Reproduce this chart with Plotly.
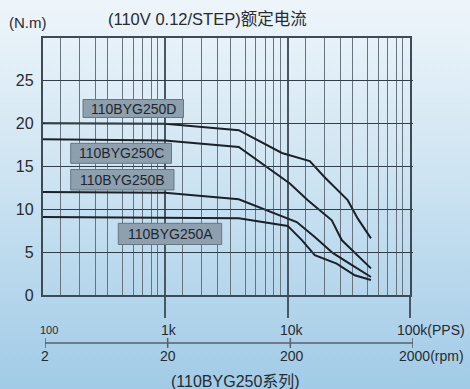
import base64
import math
import plotly.graph_objects as go

W, H = 470, 389

# Torque–frequency curves (pulse rate in PPS, torque in N.m)
freq_D = [100, 1000, 4000, 9000, 15200, 20000, 31000, 37500, 48000]
torque_D = [20.0, 19.95, 19.2, 16.55, 15.6, 13.75, 11.05, 8.9, 6.6]

freq_C = [100, 1000, 4000, 10450, 14650, 23000, 27700, 36700, 48000]
torque_C = [18.15, 18.0, 17.25, 13.0, 11.05, 8.7, 6.4, 4.65, 3.1]

freq_B = [100, 1000, 4000, 11900, 16700, 23400, 30500, 48000]
torque_B = [12.0, 11.9, 11.15, 8.5, 6.75, 4.9, 3.85, 2.1]

freq_A = [100, 1000, 4000, 10050, 13100, 16700, 25200, 35400, 48000]
torque_A = [9.1, 9.0, 8.95, 8.05, 6.4, 4.65, 3.65, 2.3, 1.75]

model_names = ["110BYG250D", "110BYG250C", "110BYG250B", "110BYG250A"]

torque_ticks = [0, 5, 10, 15, 20, 25]
decade_vals = [1000, 10000, 100000]
minor_mult = [1.4, 2, 2.7, 3.4, 4.5, 5.5, 6.6, 7.7, 8.7]
minor_vals = [d * m for d in [100, 1000, 10000] for m in minor_mult]

scale_vals = [100, 1000, 10000, 100000]
pps_labels = ["100", "1k", "10k", "100k(PPS)"]
rpm_labels = ["2", "20", "200", "2000(rpm)"]

FONT = "Liberation Sans, Arial, Noto Sans CJK SC, sans-serif"
TEXT = "#262b30"
CURVE = "#1b2129"


def fx(px):
    return px / W


def fy(py):
    return 1 - py / H


fig = go.Figure()

for name, xs, ys in zip(model_names,
                        [freq_D, freq_C, freq_B, freq_A],
                        [torque_D, torque_C, torque_B, torque_A]):
    fig.add_trace(go.Scatter(x=xs, y=ys, mode="lines", name=name,
                             line=dict(color=CURVE, width=2),
                             hoverinfo="skip", showlegend=False))

# soft vertical background gradient
svg = (
    f'<svg xmlns="http://www.w3.org/2000/svg" width="{W}" height="{H}" '
    f'viewBox="0 0 {W} {H}" preserveAspectRatio="none"><defs>'
    '<linearGradient id="bg" x1="0" y1="0" x2="0" y2="1">'
    '<stop offset="0" stop-color="#eef5fa"/>'
    '<stop offset="0.4" stop-color="#d2e6f3"/>'
    '<stop offset="1" stop-color="#a1cbe7"/>'
    '</linearGradient></defs>'
    f'<rect width="{W}" height="{H}" fill="url(#bg)"/></svg>'
)
bg_src = "data:image/svg+xml;base64," + base64.b64encode(svg.encode()).decode()

shapes = []
annotations = []

# model name tags: (x0, x1, y0, y1) in pixels
tag_boxes = {
    "110BYG250D": (83, 183.5, 99.5, 117.5),
    "110BYG250C": (70.7, 171.5, 143.3, 163.3),
    "110BYG250B": (70.7, 174, 169.5, 190),
    "110BYG250A": (118.3, 221.7, 223.3, 244.5),
}
for name in model_names:
    x0, x1, y0, y1 = tag_boxes[name]
    shapes.append(dict(type="rect", xref="paper", yref="paper",
                       x0=fx(x0), x1=fx(x1), y0=fy(y1), y1=fy(y0),
                       fillcolor="#8e9fad", line=dict(color="#667683", width=1),
                       layer="above"))
    annotations.append(dict(text=name, xref="paper", yref="paper",
                            x=fx((x0 + x1) / 2), y=fy((y0 + y1) / 2),
                            xanchor="center", yanchor="middle", showarrow=False,
                            font=dict(family=FONT, size=14, color="#1d2731")))

# secondary frequency / speed scale under the chart
scale_y = fy(343)
shapes.append(dict(type="line", xref="x2", yref="paper",
                   x0=scale_vals[0], x1=scale_vals[-1], y0=scale_y, y1=scale_y,
                   line=dict(color="#59616a", width=1.5)))
for v in scale_vals:
    shapes.append(dict(type="line", xref="x2", yref="paper",
                       x0=v, x1=v, y0=fy(338), y1=fy(348),
                       line=dict(color="#59616a", width=1.5)))

pps_shift = [4, 1, 2, 18]
rpm_shift = [0, 0, 2, 18]
for i, v in enumerate(scale_vals):
    annotations.append(dict(text=pps_labels[i], xref="x2", yref="paper",
                            x=math.log10(v), y=fy(329.5), xshift=pps_shift[i],
                            xanchor="center", yanchor="middle", showarrow=False,
                            font=dict(family=FONT, size=11 if i == 0 else 14, color=TEXT)))
    annotations.append(dict(text=rpm_labels[i], xref="x2", yref="paper",
                            x=math.log10(v), y=fy(355.5), xshift=rpm_shift[i],
                            xanchor="center", yanchor="middle", showarrow=False,
                            font=dict(family=FONT, size=14, color=TEXT)))

annotations += [
    dict(text="(N.m)", xref="paper", yref="paper", x=fx(6.5), y=fy(22.7),
         xanchor="left", yanchor="middle", showarrow=False,
         font=dict(family=FONT, size=15, color=TEXT)),
    dict(text="(110V 0.12/STEP)额定电流", xref="paper", yref="paper",
         x=fx(106), y=fy(19), xanchor="left", yanchor="middle", showarrow=False,
         font=dict(family=FONT, size=16.5, color=TEXT)),
    dict(text="(110BYG250系列)", xref="paper", yref="paper",
         x=fx(235), y=fy(381.5), xanchor="center", yanchor="middle", showarrow=False,
         font=dict(family=FONT, size=16, color=TEXT)),
]

fig.update_layout(
    width=W, height=H,
    margin=dict(l=0, r=0, t=0, b=0, pad=0, autoexpand=False),
    paper_bgcolor="#a1cbe7",
    plot_bgcolor="rgba(0,0,0,0)",
    images=[dict(source=bg_src, xref="paper", yref="paper", x=0, y=1,
                 sizex=1, sizey=1, sizing="stretch", xanchor="left",
                 yanchor="top", layer="below")],
    xaxis=dict(type="log", range=[2, 5], domain=[fx(42.5), fx(410)],
               anchor="y", showline=True, mirror=True, linecolor="#3e4a55",
               linewidth=1.5, tickmode="array", tickvals=decade_vals,
               ticks="outside", ticklen=21, tickwidth=2, tickcolor="#4a5662",
               showticklabels=False, showgrid=True, gridcolor="#4a5662",
               gridwidth=2, zeroline=False, automargin=False,
               minor=dict(tickmode="array", tickvals=minor_vals, showgrid=True,
                          gridcolor="#67747f", gridwidth=1.4, ticks="")),
    yaxis=dict(range=[0, 30], domain=[fy(295), fy(37.5)], anchor="x",
               tickmode="array", tickvals=torque_ticks, showgrid=True,
               gridcolor="#323e49", gridwidth=1.4, showline=True, mirror=True,
               linecolor="#3e4a55", linewidth=1.5, ticks="", zeroline=False,
               ticklabelstandoff=4, automargin=False,
               tickfont=dict(family=FONT, size=16, color=TEXT)),
    xaxis2=dict(type="log", range=[2, 5], domain=[fx(45), fx(413)],
                anchor="y", visible=False, automargin=False),
    shapes=shapes,
    annotations=annotations,
)

fig.write_html("out.html")
